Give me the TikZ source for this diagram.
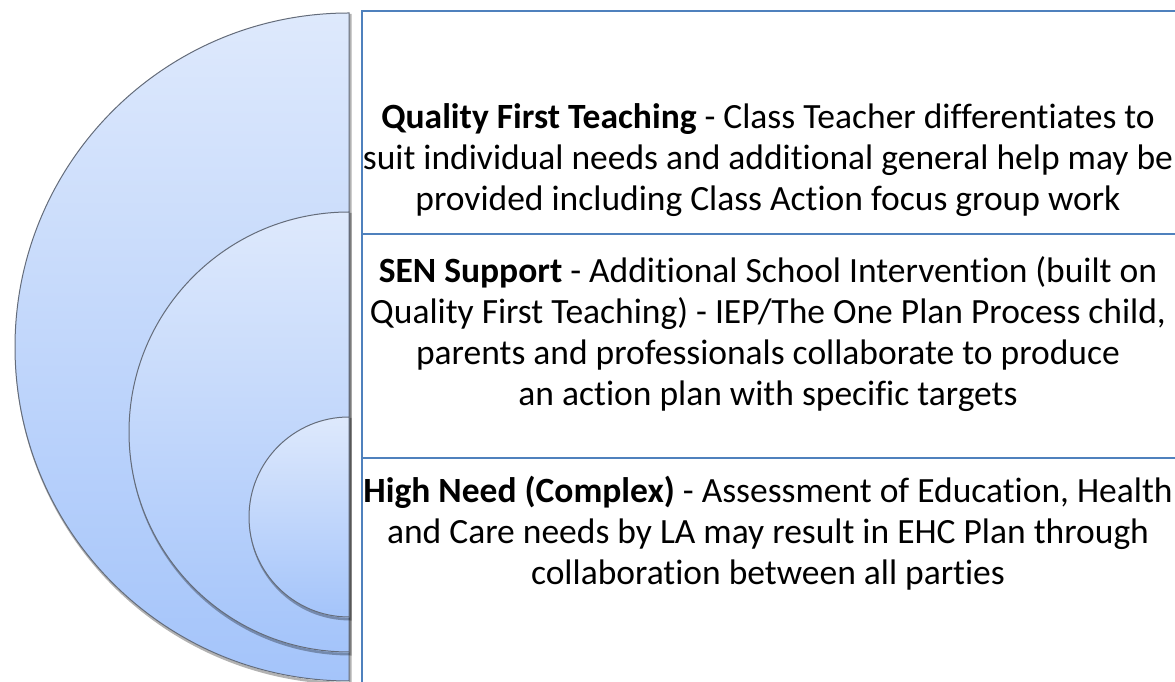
\documentclass[tikz,border=0pt]{standalone}
\usepackage{fontspec}
\setmainfont[Ligatures=NoCommon]{Carlito}
\definecolor{ringtop}{RGB}{222,233,252}
\definecolor{ringbot}{RGB}{164,196,250}
\definecolor{ringedge}{RGB}{100,108,122}
\definecolor{ruleblue}{RGB}{79,129,189}
\begin{document}
\begin{tikzpicture}[x=1pt,y=1pt,
  ring/.style={top color=ringtop, bottom color=ringbot, draw=ringedge, line width=1pt},
  ringshadow/.style={draw=black, opacity=0.3, line width=2.6pt},
  rule/.style={draw=ruleblue, line width=2.6pt},
  txt/.style={font=\fontsize{35.5}{41}\selectfont, align=center, text=black, inner sep=0pt}]
\useasboundingbox (0,0) rectangle (1175,682);

% nested half-discs, largest first
\begin{scope}
  \clip (0,0) rectangle (1175,682);
  \foreach \cy/\r in {335/334, 250/220, 165/100} {
    \begin{scope}[shift={(1.3,-2.2)}]
      \draw[ringshadow] (349,\cy+\r) arc[start angle=90, end angle=270, radius=\r] -- cycle;
    \end{scope}
    \draw[ring] (349,\cy+\r) arc[start angle=90, end angle=270, radius=\r] -- cycle;
  }
\end{scope}

% frame of the text column
\draw[rule] (362,0) -- (362,671) -- (1175,671);
\draw[rule] (362,448) -- (1175,448);
\draw[rule] (362,224) -- (1175,224);

% level descriptions
\node[txt] (qft) at (768,522) {\textbf{Quality First Teaching} - Class Teacher differentiates to\\
  suit individual needs and additional general help may be\\
  provided including Class Action focus group work};
\node[txt] (sen) at (768,348) {\textbf{SEN Support} - Additional School Intervention (built on\\
  Quality First Teaching) - IEP/The One Plan Process child,\\
  parents and professionals collaborate to produce\\
  an action plan with specific targets};
\node[txt] (high) at (768,149) {\textbf{High Need (Complex)} - Assessment of Education, Health\\
  and Care needs by LA may result in EHC Plan through\\
  collaboration between all parties};
\end{tikzpicture}
\end{document}
